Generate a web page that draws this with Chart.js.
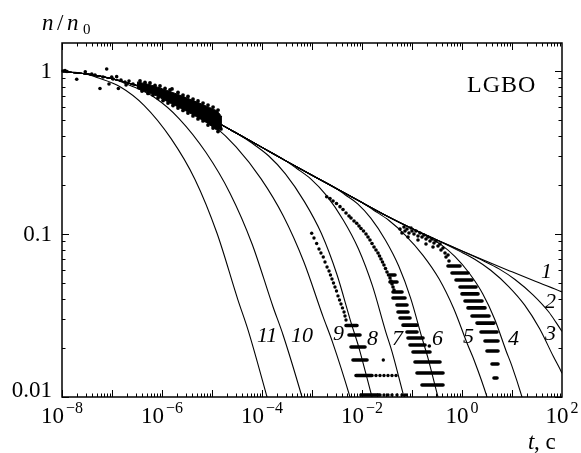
<!DOCTYPE html>
<html>
<head>
<meta charset="utf-8">
<script src="https://cdn.jsdelivr.net/npm/chart.js@4.4.1/dist/chart.umd.min.js"></script>
<style>
  html, body { margin: 0; padding: 0; background: #fff; }
</style>
</head>
<body>
<canvas id="chart-lgbo" width="581" height="453"></canvas>
<script>
  "use strict";

  // common upper branch (curve 1), t in s, n/n0
  var envT = [1e-8, 3e-8, 1e-7, 3e-7, 1e-6, 3e-6, 1e-5, 3e-5, 1e-4, 3e-4, 1e-3, 3e-3, 1e-2, 3e-2, 0.1, 0.3, 1, 3, 10, 30, 100, 126];
  var envN = [0.993, 0.960, 0.897, 0.817, 0.714, 0.610, 0.503, 0.418, 0.340, 0.281, 0.229, 0.191, 0.156, 0.130, 0.108, 0.0925, 0.0786, 0.0682, 0.0586, 0.0511, 0.0441, 0.0428];

  // curves 2..11: where they leave curve 1 and fall off
  var t2 = [2.716, 5.5, 11.48, 26.3, 54.95, 75.9, 100, 126];
  var n2 = [0.0683, 0.0611, 0.0526, 0.0423, 0.0331, 0.0287, 0.0252, 0.0224];
  var t3 = [0.887, 1.795, 3.75, 8.59, 17.95, 35.3, 67.3, 100, 126];
  var n3 = [0.0785, 0.0700, 0.0599, 0.0476, 0.0366, 0.0264, 0.0177, 0.0140, 0.0119];
  var t4 = [0.220, 0.393, 0.718, 1.413, 2.594, 4.508, 7.66, 9.82, 15.85, 19.95];
  var n4 = [0.0953, 0.0854, 0.0728, 0.0572, 0.0430, 0.0300, 0.0191, 0.0157, 0.0100, 0.00776];
  var t5 = [1.714e-2, 3.47e-2, 7.24e-2, 0.166, 0.347, 0.682, 1.30, 1.762, 3.162, 3.98];
  var n5 = [0.140, 0.121, 0.0989, 0.0740, 0.0531, 0.0349, 0.0209, 0.0167, 0.0100, 0.00776];
  var t6 = [4.59e-3, 8.2e-3, 1.5e-2, 2.95e-2, 5.42e-2, 9.42e-2, 0.160, 0.205, 0.331, 0.417];
  var n6 = [0.174, 0.153, 0.125, 0.0916, 0.0636, 0.0403, 0.0228, 0.0177, 0.0100, 0.00776];
  var t7 = [4.88e-4, 9.55e-4, 1.92e-3, 4.21e-3, 8.47e-3, 1.614e-2, 2.965e-2, 3.98e-2, 6.92e-2, 8.71e-2];
  var n7 = [0.253, 0.217, 0.173, 0.122, 0.0812, 0.0482, 0.0253, 0.0190, 0.0100, 0.00776];
  var t8 = [6.40e-5, 1.35e-4, 2.94e-4, 7.05e-4, 1.535e-3, 3.13e-3, 6.19e-3, 8.55e-3, 1.585e-2, 1.995e-2];
  var n8 = [0.360, 0.302, 0.234, 0.158, 0.101, 0.0568, 0.0279, 0.0204, 0.0100, 0.00776];
  var t9 = [4.09e-6, 1.09e-5, 3.03e-5, 9.60e-5, 2.67e-4, 6.82e-4, 1.67e-3, 2.56e-3, 5.75e-3, 7.24e-3];
  var n9 = [0.569, 0.462, 0.342, 0.218, 0.129, 0.0678, 0.0310, 0.0218, 0.0100, 0.00776];
  var t10 = [2.51e-7, 7.24e-7, 2.19e-6, 7.59e-6, 2.29e-5, 6.31e-5, 1.66e-4, 2.63e-4, 6.31e-4, 7.94e-4];
  var n10 = [0.807, 0.685, 0.511, 0.316, 0.178, 0.0872, 0.0358, 0.0241, 0.0100, 0.00776];
  var t11 = [5.01e-8, 1.45e-7, 4.37e-7, 1.51e-6, 4.57e-6, 1.26e-5, 3.31e-5, 5.25e-5, 1.26e-4, 1.58e-4];
  var n11 = [0.912, 0.801, 0.616, 0.386, 0.216, 0.101, 0.0393, 0.0258, 0.0100, 0.00776];

  var curveNames = ['1', '2', '3', '4', '5', '6', '7', '8', '9', '10', '11'];

  // measurements, short times: scattered points
  var earlyT = [1.05e-8, 1.15e-8, 1.26e-8, 1.97e-8, 2.92e-8, 3.93e-8, 5.75e-8, 7.83e-8, 8.71e-8, 9.86e-8, 1.24e-7, 1.34e-7, 4.57e-8, 6.61e-8, 1.05e-7, 1.51e-7, 1.82e-7, 2.19e-7, 2.63e-7, 1.91e-7];
  var earlyN = [1.0, 1.007, 0.993, 0.889, 0.990, 0.958, 0.781, 1.029, 0.832, 0.919, 0.923, 0.781, 0.945, 0.919, 0.893, 0.881, 0.856, 0.868, 0.832, 0.821];
  // dense cloud 3e-7..1.6e-5: outline and edge points
  var bandT = [3.16e-7, 5.01e-7, 7.94e-7, 1.26e-6, 2.0e-6, 3.16e-6, 5.01e-6, 7.94e-6, 1.0e-5, 1.26e-5, 1.58e-5];
  var bandHi = [0.856, 0.832, 0.798, 0.759, 0.722, 0.683, 0.645, 0.606, 0.589, 0.568, 0.522];
  var bandLo = [0.781, 0.743, 0.702, 0.650, 0.606, 0.5645, 0.522, 0.480, 0.4566, 0.4347, 0.447];
  var edgeT = [3.63e-7, 4.57e-7, 5.75e-7, 7.24e-7, 9.12e-7, 1.15e-6, 1.445e-6, 1.585e-6, 2.09e-6, 2.63e-6, 3.31e-6, 4.17e-6, 5.25e-6, 6.61e-6, 8.32e-6, 1.05e-5, 1.32e-5,
               3.98e-7, 5.25e-7, 6.61e-7, 8.32e-7, 1.05e-6, 1.32e-6, 1.66e-6, 2.09e-6, 2.63e-6, 3.31e-6, 4.17e-6, 5.25e-6, 6.61e-6, 8.32e-6, 1.05e-5, 1.32e-5, 1.51e-5];
  var edgeN = [0.868, 0.850, 0.844, 0.815, 0.809, 0.781, 0.765, 0.776, 0.738, 0.712, 0.698, 0.673, 0.655, 0.636, 0.618, 0.601, 0.576,
               0.754, 0.728, 0.712, 0.683, 0.659, 0.636, 0.614, 0.593, 0.573, 0.552, 0.530, 0.508, 0.494, 0.466, 0.447, 0.425, 0.441];

  // measurements near 1e-3 s
  var trailAT = [9.86e-4, 1.096e-3, 1.24e-3, 1.38e-3, 1.51e-3, 1.68e-3, 1.82e-3, 2.0e-3, 2.19e-3, 2.34e-3, 2.51e-3, 2.69e-3, 2.88e-3, 3.09e-3, 3.31e-3, 3.55e-3, 3.80e-3, 4.07e-3, 4.37e-3, 4.57e-3, 4.79e-3,
                 2.667e-2, 1.905e-2, 2.29e-2, 2.754e-2, 3.31e-2, 3.98e-2, 4.79e-2, 2.754e-2, 3.31e-2, 3.98e-2, 5.01e-2, 6.31e-2, 7.59e-2];
  var trailAN = [0.1010, 0.0945, 0.0874, 0.0809, 0.0764, 0.0722, 0.0673, 0.0627, 0.0593, 0.0560, 0.0530, 0.0500, 0.0473, 0.0447, 0.0417, 0.0394, 0.0372, 0.0352, 0.0332, 0.0314, 0.0297,
                 0.01687, 0.01355, 0.01355, 0.01355, 0.01355, 0.01355, 0.01355, 0.01028, 0.01028, 0.01028, 0.01028, 0.01028, 0.01028];
  var rowsAN = [0.02747, 0.0240, 0.02026, 0.01687, 0.01355, 0.01028];
  var rowsAT1 = [4.79e-3, 5.5e-3, 6.03e-3, 6.61e-3, 7.59e-3, 9.55e-3];
  var rowsAT2 = [7.94e-3, 9.12e-3, 1.148e-2, 1.259e-2, 1.585e-2, 2.29e-2];

  // measurements near 1e-2 s
  var trailBT = [1.968e-3, 2.29e-3, 2.63e-3, 3.09e-3, 3.63e-3, 4.17e-3, 4.79e-3, 5.5e-3, 6.03e-3, 6.92e-3, 7.83e-3, 8.71e-3, 9.55e-3, 1.072e-2, 1.202e-2, 1.318e-2, 1.445e-2,
                 1.585e-2, 1.738e-2, 1.905e-2, 2.09e-2, 2.24e-2, 2.40e-2, 2.57e-2, 2.75e-2, 2.95e-2, 3.16e-2, 3.39e-2, 3.63e-2, 3.80e-2, 3.98e-2, 4.17e-2, 4.37e-2, 0.222];
  var trailBN = [0.1694, 0.1651, 0.1594, 0.1539, 0.1471, 0.1414, 0.1345, 0.1289, 0.1253, 0.1202, 0.1163, 0.1120, 0.1081, 0.1043, 0.100, 0.0958, 0.0919,
                 0.0874, 0.0832, 0.0797, 0.0764, 0.0733, 0.0702, 0.0673, 0.0645, 0.0614, 0.0585, 0.0560, 0.0537, 0.0515, 0.0493, 0.0473, 0.0453, 0.02055];
  var rowsBN = [0.0560, 0.0508, 0.0441, 0.0405, 0.0367, 0.0332, 0.0305, 0.0276, 0.02505, 0.0230, 0.02085, 0.01888, 0.0164, 0.01403, 0.01185];
  var rowsBT1 = [0.0363, 0.0363, 0.0417, 0.0417, 0.0501, 0.0525, 0.0575, 0.0661, 0.0794, 0.0832, 0.0912, 0.1047, 0.1148, 0.1259, 0.1585];
  var rowsBT2 = [0.0457, 0.0501, 0.0631, 0.0724, 0.0794, 0.0832, 0.0912, 0.1259, 0.1259, 0.166, 0.182, 0.229, 0.363, 0.417, 0.417];

  // measurements near 1 s
  var trailCT = [0.0575, 0.0631, 0.0692, 0.0724, 0.0794, 0.0871, 0.0955, 0.100, 0.1096, 0.1202, 0.1318, 0.1445, 0.1585, 0.1738, 0.1905, 0.2089, 0.2291, 0.2512, 0.2754, 0.302,
                 0.3311, 0.3631, 0.3802, 0.4169, 0.4571, 0.4786, 0.5248, 0.5495, 0.0832, 0.1318, 0.1905, 0.263];
  var trailCN = [0.1073, 0.1014, 0.1104, 0.1043, 0.1073, 0.1014, 0.1088, 0.1043, 0.100, 0.1043, 0.0972, 0.1014, 0.0958, 0.0986, 0.0932, 0.0958, 0.0906, 0.0932, 0.0881, 0.0906,
                 0.0844, 0.0868, 0.0797, 0.0820, 0.0764, 0.0722, 0.0743, 0.0683, 0.0958, 0.0919, 0.0868, 0.0832];
  var rowsCN = [0.0636, 0.0576, 0.0522, 0.0473, 0.0429, 0.0388, 0.0352, 0.0314, 0.0284, 0.02505, 0.02206, 0.01915, 0.01594, 0.01308];
  var rowsCT1 = [0.5248, 0.631, 0.759, 0.912, 1.0, 1.148, 1.318, 1.585, 1.995, 2.399, 2.884, 3.162, 3.981, 4.365];
  var rowsCT2 = [0.912, 1.318, 1.585, 1.905, 2.089, 2.512, 2.884, 3.467, 4.365, 5.012, 5.248, 5.248, 5.248, 5.012];

  // axis labels
  var xTickValues = [1e-8, 1e-6, 1e-4, 1e-2, 1, 100];
  var xTickExps = ['\u22128', '\u22126', '\u22124', '\u22122', '0', '2'];
  var yTickValues = [0.01, 0.1, 1];
  var yTickLabels = ['0.01', '0.1', '1'];

  var SERIF = '"Liberation Serif", "DejaVu Serif", serif';

  function pts(ts, ns) {
    return ts.map(function(t, i) { return { x: t, y: ns[i] }; });
  }

  // curve = common branch up to where it splits off, then its own tail
  function curvePts(ts, ns) {
    var out = [];
    envT.forEach(function(t, i) {
      if (t < ts[0]) out.push({ x: t, y: envN[i] });
    });
    return out.concat(pts(ts, ns));
  }

  // horizontal runs of overlapping points, separated by gaps
  function rowPts(ns, t1, t2) {
    var out = [];
    ns.forEach(function(n, i) {
      out.push({ x: t1[i], y: n });
      out.push({ x: t2[i], y: n });
      out.push({ x: t2[i], y: null });
    });
    return out;
  }

  function curveSet(data) {
    return {
      type: 'line', data: data, borderColor: '#000', borderWidth: 1.1,
      pointRadius: 0, cubicInterpolationMode: 'monotone', fill: false, clip: 0
    };
  }

  function dotSet(data, r) {
    return {
      type: 'scatter', data: data, backgroundColor: '#000', borderWidth: 0,
      pointRadius: r, showLine: false, clip: 2
    };
  }

  function rowSet(data) {
    return {
      type: 'line', data: data, borderColor: '#000', borderWidth: 3.6, borderCapStyle: 'round',
      pointRadius: 0, spanGaps: false, fill: false, clip: 2
    };
  }

  var datasets = [
    curveSet(pts(envT, envN)),
    curveSet(curvePts(t2, n2)),
    curveSet(curvePts(t3, n3)),
    curveSet(curvePts(t4, n4)),
    curveSet(curvePts(t5, n5)),
    curveSet(curvePts(t6, n6)),
    curveSet(curvePts(t7, n7)),
    curveSet(curvePts(t8, n8)),
    curveSet(curvePts(t9, n9)),
    curveSet(curvePts(t10, n10)),
    curveSet(curvePts(t11, n11)),
    {
      type: 'line', data: pts(bandT, bandHi), borderColor: '#000', borderWidth: 1,
      backgroundColor: '#000', pointRadius: 0, tension: 0.3, fill: '+1'
    },
    {
      type: 'line', data: pts(bandT, bandLo), borderColor: '#000', borderWidth: 1,
      pointRadius: 0, tension: 0.3, fill: false
    },
    dotSet(pts(earlyT, earlyN), 1.8),
    dotSet(pts(edgeT, edgeN), 1.9),
    dotSet(pts(trailAT, trailAN), 1.7),
    rowSet(rowPts(rowsAN, rowsAT1, rowsAT2)),
    dotSet(pts(trailBT, trailBN), 1.8),
    rowSet(rowPts(rowsBN, rowsBT1, rowsBT2)),
    dotSet(pts(trailCT, trailCN), 1.8),
    rowSet(rowPts(rowsCN, rowsCT1, rowsCT2))
  ];

  // frame with inward ticks on all sides, labels and captions
  var framePlugin = {
    id: 'frame',
    afterDraw: function(chart) {
      var ctx = chart.ctx;
      var a = chart.chartArea;
      var xs = chart.scales.x;
      var ys = chart.scales.y;
      var e, m, v, p, len;

      ctx.save();
      ctx.strokeStyle = '#000';
      ctx.lineWidth = 1;
      ctx.beginPath();
      for (e = -8; e < 2; e++) {
        for (m = 1; m < 10; m++) {
          v = m * Math.pow(10, e);
          p = Math.round(xs.getPixelForValue(v)) + 0.5;
          len = m === 1 ? 7 : 3.5;
          ctx.moveTo(p, a.bottom); ctx.lineTo(p, a.bottom - len);
          ctx.moveTo(p, a.top); ctx.lineTo(p, a.top + len);
        }
      }
      for (e = -2; e <= 0; e++) {
        for (m = 1; m < 10; m++) {
          v = m * Math.pow(10, e);
          if (v > ys.max) break;
          p = Math.round(ys.getPixelForValue(v)) + 0.5;
          len = m === 1 ? 7 : 3.5;
          ctx.moveTo(a.left, p); ctx.lineTo(a.left + len, p);
          ctx.moveTo(a.right, p); ctx.lineTo(a.right - len, p);
        }
      }
      ctx.stroke();

      ctx.lineWidth = 1.5;
      ctx.strokeRect(a.left, a.top, a.right - a.left, a.bottom - a.top);

      ctx.fillStyle = '#000';
      ctx.textBaseline = 'alphabetic';

      // x labels: 10 with superscript exponent
      xTickValues.forEach(function(val, i) {
        var px = xs.getPixelForValue(val);
        ctx.font = '23px ' + SERIF;
        var w10 = ctx.measureText('10').width;
        ctx.font = '16px ' + SERIF;
        var ws = ctx.measureText(xTickExps[i]).width;
        var x0 = px - (w10 + 2 + ws) / 2;
        ctx.font = '23px ' + SERIF;
        ctx.textAlign = 'left';
        ctx.fillText('10', x0, a.bottom + 26);
        ctx.font = '16px ' + SERIF;
        ctx.fillText(xTickExps[i], x0 + w10 + 2, a.bottom + 16);
      });

      // y labels
      ctx.font = '23px ' + SERIF;
      ctx.textAlign = 'right';
      yTickValues.forEach(function(val, i) {
        var py = ys.getPixelForValue(val);
        var base = i === 0 ? py : py + 7;
        ctx.fillText(yTickLabels[i], a.left - 10, base);
      });

      // axis captions
      ctx.textAlign = 'left';
      ctx.font = 'italic 23px ' + SERIF;
      ctx.fillText('n', 42, 30);
      ctx.font = '23px ' + SERIF;
      ctx.fillText('/', 57, 30);
      ctx.font = 'italic 23px ' + SERIF;
      ctx.fillText('n', 67, 30);
      ctx.font = '15px ' + SERIF;
      ctx.fillText('0', 83, 34);

      ctx.font = 'italic 23px ' + SERIF;
      ctx.fillText('t', 528, 449);
      ctx.font = '23px ' + SERIF;
      ctx.fillText(', \u0441', 534, 449);

      ctx.font = '24px ' + SERIF;
      ctx.letterSpacing = '1px';
      ctx.fillText('LGBO', 467, 92);
      ctx.letterSpacing = '0px';

      // curve numbers
      var numPos = [[541, 278], [545, 308], [545, 340], [508, 345], [463, 343], [432, 345],
                    [392, 345], [367, 345], [333, 340], [291, 342], [257, 342]];
      ctx.font = 'italic 22px ' + SERIF;
      curveNames.forEach(function(name, i) {
        ctx.fillText(name, numPos[i][0], numPos[i][1]);
      });
      ctx.restore();
    }
  };

  new Chart(document.getElementById('chart-lgbo'), {
    type: 'line',
    data: { datasets: datasets },
    options: {
      responsive: false,
      animation: false,
      events: [],
      layout: { padding: { left: 62, right: 19, top: 43, bottom: 56 } },
      plugins: { legend: { display: false }, tooltip: { enabled: false } },
      scales: {
        x: { type: 'logarithmic', min: 1e-8, max: 100, display: false },
        y: { type: 'logarithmic', min: 0.01, max: 1.485, display: false }
      }
    },
    plugins: [framePlugin]
  });
</script>
</body>
</html>
